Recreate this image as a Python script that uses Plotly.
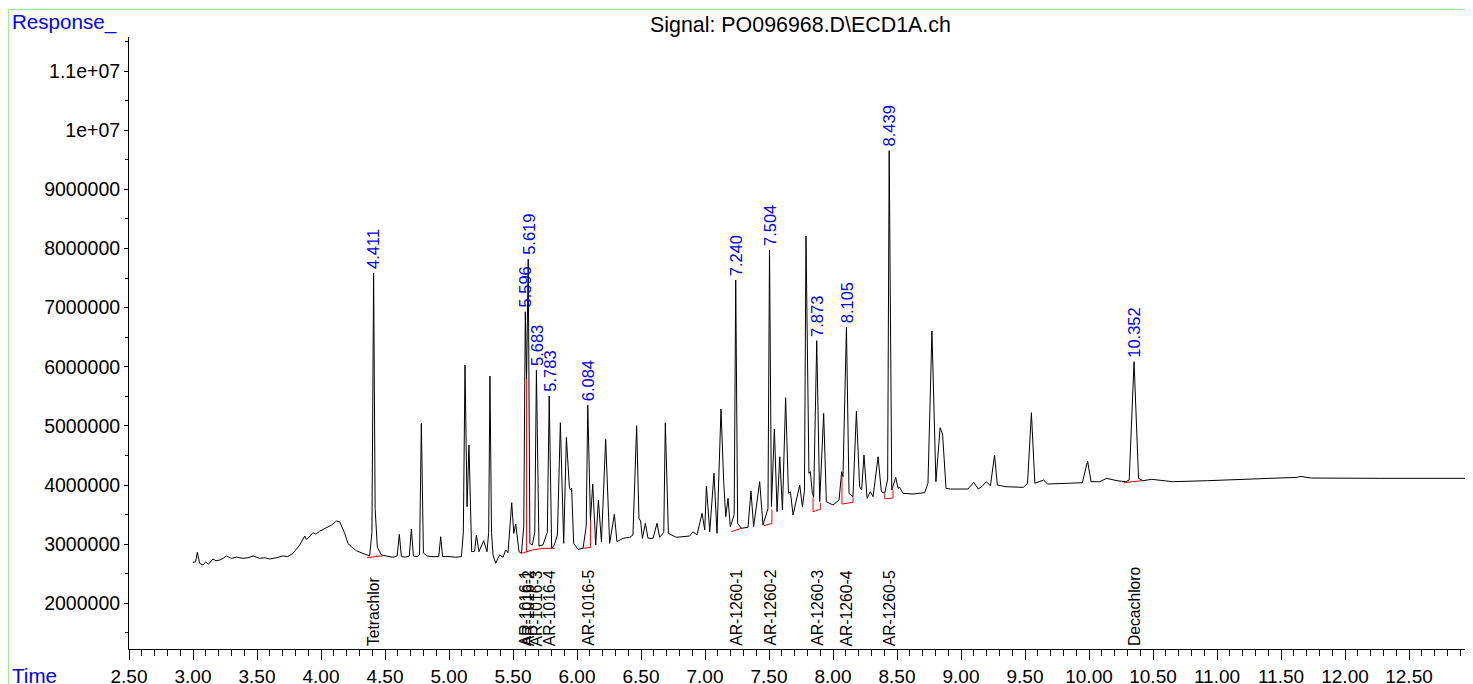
import plotly.graph_objects as go

# ---------------- data ----------------
time_min = [
    3.000, 3.020, 3.034, 3.052, 3.078, 3.100, 3.120, 3.156, 3.180, 3.209, 3.235, 3.261, 3.300, 3.340,
    3.391, 3.430, 3.469, 3.520, 3.560, 3.599, 3.650, 3.703, 3.740, 3.781, 3.834, 3.873, 3.885, 3.898,
    3.937, 3.960, 3.990, 4.016, 4.050, 4.080, 4.120, 4.146, 4.185, 4.211, 4.240, 4.277, 4.320, 4.355,
    4.380, 4.398, 4.411, 4.423, 4.440, 4.472, 4.520, 4.562, 4.595, 4.612, 4.628, 4.660, 4.690, 4.706,
    4.722, 4.750, 4.770, 4.784, 4.800, 4.830, 4.875, 4.920, 4.935, 4.950, 5.000, 5.050, 5.097, 5.112,
    5.125, 5.141, 5.156, 5.177, 5.200, 5.214, 5.234, 5.250, 5.271, 5.297, 5.310, 5.320, 5.332, 5.344,
    5.365, 5.380, 5.396, 5.422, 5.443, 5.461, 5.490, 5.506, 5.521, 5.547, 5.566, 5.584, 5.596, 5.606,
    5.619, 5.632, 5.651, 5.670, 5.683, 5.703, 5.734, 5.768, 5.783, 5.802, 5.823, 5.847, 5.870, 5.896,
    5.917, 5.940, 5.948, 5.958, 5.974, 6.008, 6.047, 6.072, 6.084, 6.105, 6.123, 6.146, 6.167, 6.191,
    6.224, 6.255, 6.292, 6.312, 6.359, 6.412, 6.437, 6.466, 6.484, 6.497, 6.511, 6.534, 6.555, 6.594,
    6.625, 6.646, 6.678, 6.690, 6.714, 6.776, 6.840, 6.880, 6.906, 6.937, 6.977, 6.998, 7.011, 7.037,
    7.070, 7.094, 7.125, 7.146, 7.162, 7.180, 7.198, 7.228, 7.240, 7.255, 7.284, 7.336, 7.359, 7.380,
    7.427, 7.453, 7.492, 7.504, 7.519, 7.542, 7.563, 7.584, 7.605, 7.630, 7.652, 7.667, 7.688, 7.740,
    7.761, 7.777, 7.789, 7.812, 7.823, 7.839, 7.849, 7.873, 7.896, 7.927, 7.948, 8.000, 8.047, 8.068,
    8.078, 8.105, 8.125, 8.156, 8.183, 8.208, 8.224, 8.242, 8.266, 8.292, 8.313, 8.352, 8.378, 8.404,
    8.427, 8.439, 8.459, 8.490, 8.508, 8.521, 8.547, 8.625, 8.716, 8.742, 8.773, 8.804, 8.837, 8.856,
    8.883, 8.918, 9.054, 9.100, 9.135, 9.162, 9.198, 9.230, 9.262, 9.284, 9.352, 9.487, 9.520, 9.550,
    9.577, 9.645, 9.677, 9.786, 9.948, 9.989, 10.016, 10.084, 10.138, 10.219, 10.287, 10.314, 10.352,
    10.387, 10.422, 10.490, 10.653, 10.924, 11.330, 11.629, 11.648, 11.738, 12.280, 12.985,
]
response = [
    2.693e6, 2.700e6, 2.862e6, 2.676e6, 2.647e6, 2.700e6, 2.660e6, 2.749e6, 2.720e6, 2.732e6, 2.760e6, 2.800e6, 2.760e6, 2.780e6,
    2.761e6, 2.770e6, 2.800e6, 2.760e6, 2.770e6, 2.749e6, 2.770e6, 2.800e6, 2.790e6, 2.845e6, 2.986e6, 3.138e6, 3.080e6, 3.099e6,
    3.194e6, 3.170e6, 3.220e6, 3.251e6, 3.280e6, 3.320e6, 3.391e6, 3.379e6, 3.183e6, 3.014e6, 2.950e6, 2.889e6, 2.850e6, 2.817e6,
    2.800e6, 3.200e6, 7.580e6, 3.600e6, 2.950e6, 2.817e6, 2.800e6, 2.778e6, 2.800e6, 3.166e6, 2.790e6, 2.780e6, 2.800e6, 3.256e6,
    2.800e6, 2.790e6, 2.820e6, 5.043e6, 2.850e6, 2.800e6, 2.788e6, 2.790e6, 3.126e6, 2.790e6, 2.790e6, 2.780e6, 2.788e6, 3.200e6,
    6.028e6, 3.633e6, 4.676e6, 2.872e6, 2.880e6, 3.155e6, 2.872e6, 2.950e6, 3.058e6, 2.872e6, 3.200e6, 5.843e6, 3.200e6, 2.817e6,
    2.676e6, 2.750e6, 2.817e6, 2.778e6, 2.901e6, 2.855e6, 3.701e6, 3.183e6, 3.341e6, 2.872e6, 2.845e6, 3.300e6, 6.930e6, 5.790e6,
    7.820e6, 3.014e6, 2.986e6, 3.200e6, 5.943e6, 2.969e6, 2.986e6, 3.200e6, 5.505e6, 2.930e6, 2.986e6, 3.155e6, 5.053e6, 3.014e6,
    4.806e6, 3.980e6, 3.915e6, 3.944e6, 3.014e6, 2.913e6, 2.930e6, 3.300e6, 5.352e6, 3.408e6, 4.017e6, 2.986e6, 3.746e6, 3.040e6,
    4.772e6, 3.014e6, 3.504e6, 3.040e6, 3.099e6, 3.116e6, 3.155e6, 5.002e6, 3.437e6, 3.390e6, 3.099e6, 3.352e6, 3.099e6, 3.099e6,
    3.352e6, 3.116e6, 3.200e6, 5.053e6, 3.183e6, 3.116e6, 3.130e6, 3.138e6, 3.210e6, 3.155e6, 3.521e6, 3.239e6, 3.983e6, 3.210e6,
    4.198e6, 3.183e6, 5.285e6, 4.056e6, 3.464e6, 3.775e6, 3.295e6, 3.500e6, 7.466e6, 3.352e6, 3.268e6, 3.285e6, 3.898e6, 3.295e6,
    4.056e6, 3.324e6, 3.600e6, 7.973e6, 3.633e6, 4.947e6, 3.549e6, 4.478e6, 3.577e6, 5.476e6, 3.860e6, 3.887e6, 3.493e6, 4.000e6,
    3.633e6, 3.900e6, 8.209e6, 4.198e6, 4.225e6, 3.860e6, 3.802e6, 6.440e6, 3.718e6, 5.212e6, 3.718e6, 3.662e6, 3.746e6, 4.225e6,
    4.140e6, 6.666e6, 3.860e6, 3.802e6, 5.251e6, 3.971e6, 3.915e6, 4.507e6, 3.775e6, 3.887e6, 3.802e6, 4.478e6, 3.887e6, 3.860e6,
    4.100e6, 9.652e6, 3.915e6, 4.130e6, 3.944e6, 3.961e6, 3.860e6, 3.848e6, 3.870e6, 4.029e6, 6.603e6, 4.056e6, 4.969e6, 4.862e6,
    3.944e6, 3.932e6, 3.932e6, 4.045e6, 3.932e6, 3.971e6, 4.056e6, 3.988e6, 4.507e6, 4.000e6, 3.971e6, 3.961e6, 4.029e6, 5.222e6,
    4.029e6, 4.084e6, 4.017e6, 4.029e6, 4.039e6, 4.406e6, 4.056e6, 4.056e6, 4.113e6, 4.073e6, 4.056e6, 4.084e6, 6.085e6,
    4.113e6, 4.073e6, 4.096e6, 4.056e6, 4.073e6, 4.101e6, 4.130e6, 4.147e6, 4.118e6, 4.113e6, 4.113e6,
]

# integration baselines / drop lines (red)
base_t = [4.360, 4.485, None,
          5.566, 5.651, 5.734, 5.826, None, 5.606, 5.606, None,
          6.047, 6.105, 6.105, None,
          7.206, 7.284, None,
          7.459, 7.523, 7.523, None,
          7.844, 7.844, 7.901, 7.901, None,
          8.070, 8.070, 8.156, 8.156, None,
          8.404, 8.404, 8.469, 8.469, None,
          10.273, 10.414]
base_r = [2.771e6, 2.805e6, None,
          2.845e6, 2.900e6, 2.930e6, 2.930e6, None, 2.860e6, 5.790e6, None,
          2.930e6, 2.945e6, 3.408e6, None,
          3.210e6, 3.268e6, None,
          3.312e6, 3.352e6, 3.589e6, None,
          3.800e6, 3.549e6, 3.589e6, 3.700e6, None,
          4.140e6, 3.678e6, 3.707e6, 3.800e6, None,
          3.860e6, 3.769e6, 3.780e6, 3.915e6, None,
          4.039e6, 4.073e6]

peak_rt = [4.411, 5.596, 5.619, 5.683, 5.783, 6.084, 7.240, 7.504, 7.873, 8.105, 8.439, 10.352]
peak_rt_text = ["4.411", "5.596", "5.619", "5.683", "5.783", "6.084", "7.240", "7.504",
                "7.873", "8.105", "8.439", "10.352"]
peak_names = ["Tetrachlor", "AR-1016-1", "AR-1016-2", "AR-1016-3", "AR-1016-4", "AR-1016-5",
              "AR-1260-1", "AR-1260-2", "AR-1260-3", "AR-1260-4", "AR-1260-5", "Decachloro"]

x_tickvals = [2.5, 3.0, 3.5, 4.0, 4.5, 5.0, 5.5, 6.0, 6.5, 7.0, 7.5, 8.0, 8.5, 9.0, 9.5,
              10.0, 10.5, 11.0, 11.5, 12.0, 12.5]
x_ticktext = ["2.50", "3.00", "3.50", "4.00", "4.50", "5.00", "5.50", "6.00", "6.50", "7.00", "7.50",
              "8.00", "8.50", "9.00", "9.50", "10.00", "10.50", "11.00", "11.50", "12.00", "12.50"]
y_tickvals = [2e6, 3e6, 4e6, 5e6, 6e6, 7e6, 8e6, 9e6, 1e7, 1.1e7]
y_ticktext = ["2000000", "3000000", "4000000", "5000000", "6000000", "7000000", "8000000",
              "9000000", "1e+07", "1.1e+07"]

title_text = "Signal: PO096968.D\\ECD1A.ch"

# ---------------- figure ----------------
FONT = "Liberation Sans, Arial, sans-serif"
BLUE = "#0000FF"

fig = go.Figure()
fig.add_trace(go.Scatter(x=time_min, y=response, mode="lines",
                         line=dict(color="black", width=1), hoverinfo="skip", showlegend=False))
fig.add_trace(go.Scatter(x=base_t, y=base_r, mode="lines",
                         line=dict(color="red", width=1), hoverinfo="skip", showlegend=False))

apex = dict(zip(time_min, response))
annotations = []
for rt, txt, name in zip(peak_rt, peak_rt_text, peak_names):
    annotations.append(dict(x=rt, y=apex[rt], xref="x", yref="y", text=txt, showarrow=False,
                            textangle=-90, xanchor="center", yanchor="bottom", yshift=2,
                            font=dict(family=FONT, size=16.5, color=BLUE)))
    annotations.append(dict(x=rt, y=0, xref="x", yref="paper", text=name, showarrow=False,
                            textangle=-90, xanchor="center", yanchor="bottom", yshift=1,
                            font=dict(family=FONT, size=15.7, color="black")))

annotations.append(dict(x=-0.0885, y=1.0245, xref="paper", yref="paper", text="Response_",
                        showarrow=False, xanchor="left", yanchor="middle",
                        font=dict(family=FONT, size=20.6, color=BLUE)))
annotations.append(dict(x=-0.0885, y=-0.0441, xref="paper", yref="paper", text="Time",
                        showarrow=False, xanchor="left", yanchor="middle",
                        font=dict(family=FONT, size=20.6, color=BLUE)))
annotations.append(dict(x=0.4993, y=1.0196, xref="paper", yref="paper", text=title_text,
                        showarrow=False, xanchor="center", yanchor="middle",
                        font=dict(family=FONT, size=21.4, color="black")))

shapes = [
    dict(type="line", xref="paper", yref="paper", x0=-0.0897, x1=1.0, y0=1.0450, y1=1.0450,
         line=dict(color="#90EE90", width=1)),
    dict(type="line", xref="paper", yref="paper", x0=-0.0897, x1=-0.0897, y0=1.0450, y1=-0.06,
         line=dict(color="#90EE90", width=1)),
]

fig.update_layout(
    width=1465, height=676,
    margin=dict(l=121, r=0, t=29, b=35, pad=0),
    paper_bgcolor="white", plot_bgcolor="white",
    showlegend=False,
    annotations=annotations,
    shapes=shapes,
    font=dict(family=FONT, color="black"),
    xaxis=dict(range=[2.5, 13.0], tickmode="array", tickvals=x_tickvals, ticktext=x_ticktext,
               showgrid=False, zeroline=False, showline=True, linecolor="black", linewidth=1,
               ticks="outside", ticklen=10, tickcolor="black", tickwidth=1,
               tickfont=dict(family=FONT, size=19, color="black"), automargin=False,
               minor=dict(tickmode="linear", tick0=2.5, dtick=0.1, ticks="outside", ticklen=6,
                          tickcolor="black", tickwidth=1, showgrid=False)),
    yaxis=dict(range=[1.2274e6, 1.1575e7], tickmode="array", tickvals=y_tickvals, ticktext=y_ticktext,
               showgrid=False, zeroline=False, showline=True, linecolor="black", linewidth=1,
               ticks="outside", ticklen=4, tickcolor="black", tickwidth=1,
               tickfont=dict(family=FONT, size=19.5, color="black"), automargin=False,
               minor=dict(tickmode="linear", tick0=0, dtick=5e5, ticks="outside", ticklen=3,
                          tickcolor="black", tickwidth=1, showgrid=False)),
)

fig.write_html("out.html")
